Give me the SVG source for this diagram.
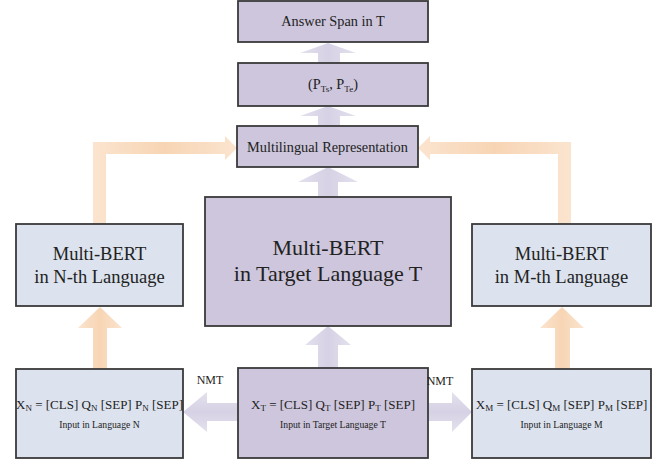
<svg xmlns="http://www.w3.org/2000/svg" width="670" height="464" viewBox="0 0 670 464">
<defs>
<linearGradient id="gv" x1="0" y1="0" x2="1" y2="0"><stop offset="0" stop-color="#e4e1ee"/><stop offset="0.5" stop-color="#d6d1e4"/><stop offset="1" stop-color="#e4e1ee"/></linearGradient>
<linearGradient id="gh" x1="0" y1="0" x2="0" y2="1"><stop offset="0" stop-color="#e4e1ee"/><stop offset="0.5" stop-color="#d6d1e4"/><stop offset="1" stop-color="#e4e1ee"/></linearGradient>
<linearGradient id="ov" x1="0" y1="0" x2="1" y2="0"><stop offset="0" stop-color="#fbe4cf"/><stop offset="0.5" stop-color="#f7d5b4"/><stop offset="1" stop-color="#fbe4cf"/></linearGradient>
</defs>
<style>
.box{stroke:#3a3a3a;stroke-width:1.8}
.p{fill:#cdc6dc}
.b{fill:#dce2ee}
text{fill:#222;text-anchor:middle}
.t14{font-size:14.3px}
.big{font-size:22px}
.mid{font-size:18.5px}
.f{font-size:13px}
.s{font-size:9.7px}
.nmt{font-size:12px}
</style>
<g id="connectors">
<polygon fill="url(#gv)" points="318,63 318,53 300,53 328,43 356,53 340,53 340,63"/>
<polygon fill="url(#gv)" points="318,126 318,116 300,116 328,106 356,116 340,116 340,126"/>
<polygon fill="url(#gv)" points="318,197 318,182 298,182 328,167 358,182 338,182 338,197"/>
<polygon fill="url(#gv)" points="318,368 318,345 305,345 328,326 351,345 338,345 338,368"/>
<polygon fill="url(#gh)" points="238,403 207,403 207,392 183,412 207,432 207,421 238,421"/>
<polygon fill="url(#gh)" points="428,403 452,403 452,392 472,412 452,432 452,421 428,421"/>
<path fill="url(#ov)" d="M93,224 V142 H225 V136 L237,148 L225,160 V154 H106 V224 Z"/>
<path fill="url(#ov)" d="M571,224 V142 H430 V136 L418,148 L430,160 V154 H558 V224 Z"/>
<polygon fill="url(#ov)" points="93,369 93,328 78,328 100,307 122,328 107,328 107,369"/>
<polygon fill="url(#ov)" points="555,369 555,328 540,328 562,307 584,328 570,328 570,369"/>
</g>
<g font-family="'Liberation Serif', 'DejaVu Serif', 'Times New Roman', serif">
<g id="answer"><rect class="box p" x="238" y="1" width="190" height="41"/><text class="t14" x="333" y="26">Answer Span in T</text></g>
<g id="pts"><rect class="box p" x="238" y="63" width="190" height="43"/><text class="t14" x="333" y="89">(P<tspan font-size="9" dy="3">Ts</tspan><tspan dy="-3">, P</tspan><tspan font-size="9" dy="3">Te</tspan><tspan dy="-3">)</tspan></text></g>
<g id="multilingual"><rect class="box p" x="237" y="126" width="181" height="41"/><text class="t14" x="327.5" y="152">Multilingual Representation</text></g>
<g id="bert-t"><rect class="box p" x="205" y="197" width="246" height="129"/><text class="big" x="328" y="255">Multi-BERT</text><text class="big" x="328" y="281">in Target Language T</text></g>
<g id="bert-n"><rect class="box b" x="16" y="224" width="167" height="82"/><text class="mid" x="99.5" y="260">Multi-BERT</text><text class="mid" x="99.5" y="283">in N-th Language</text></g>
<g id="bert-m"><rect class="box b" x="472" y="224" width="179" height="82"/><text class="mid" x="561.5" y="260">Multi-BERT</text><text class="mid" x="561.5" y="283">in M-th Language</text></g>
<g id="input-n"><rect class="box b" x="16" y="369" width="167" height="89"/>
<text class="f" x="99.5" y="409">X<tspan font-size="9" dy="1.5">N</tspan><tspan dy="-1.5"> = [CLS] Q</tspan><tspan font-size="9" dy="1.5">N</tspan><tspan dy="-1.5"> [SEP] P</tspan><tspan font-size="9" dy="1.5">N</tspan><tspan dy="-1.5"> [SEP]</tspan></text>
<text class="s" x="99.5" y="428">Input in Language N</text></g>
<g id="input-t"><rect class="box p" x="238" y="368" width="190" height="90"/>
<text class="f" x="333" y="409">X<tspan font-size="9" dy="1.5">T</tspan><tspan dy="-1.5"> = [CLS] Q</tspan><tspan font-size="9" dy="1.5">T</tspan><tspan dy="-1.5"> [SEP] P</tspan><tspan font-size="9" dy="1.5">T</tspan><tspan dy="-1.5"> [SEP]</tspan></text>
<text class="s" x="333" y="428">Input  in Target Language T</text></g>
<g id="input-m"><rect class="box b" x="472" y="369" width="179" height="89"/>
<text class="f" x="561.5" y="409">X<tspan font-size="9" dy="1.5">M</tspan><tspan dy="-1.5"> = [CLS] Q</tspan><tspan font-size="9" dy="1.5">M</tspan><tspan dy="-1.5"> [SEP] P</tspan><tspan font-size="9" dy="1.5">M</tspan><tspan dy="-1.5"> [SEP]</tspan></text>
<text class="s" x="561.5" y="428">Input in Language M</text></g>
<g id="labels"><text class="nmt" x="210" y="384">NMT</text><text class="nmt" x="440" y="385">NMT</text></g>
</g>
</svg>
